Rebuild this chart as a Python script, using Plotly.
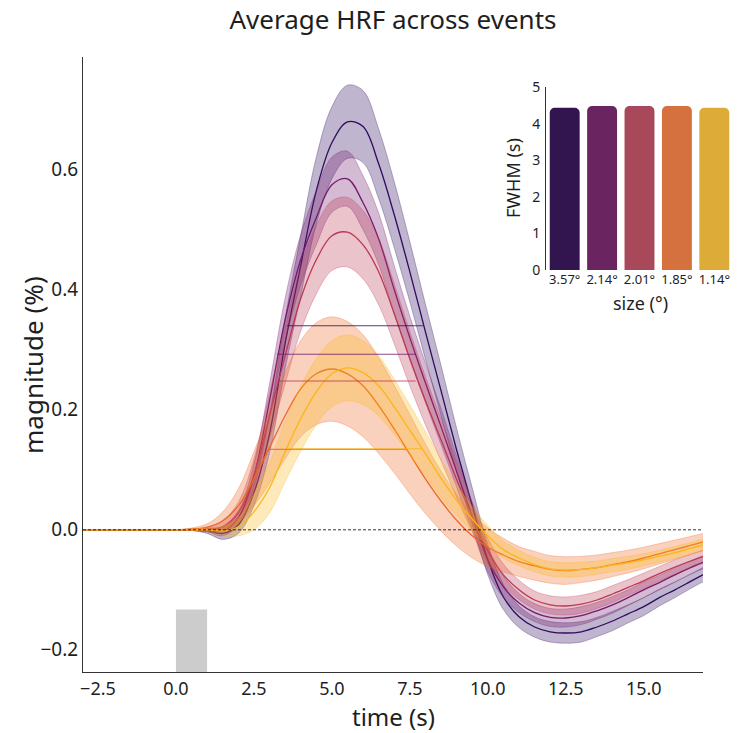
import plotly.graph_objects as go

# ---------------- data ----------------
time_s = [-3.0, -2.5, -2.0, -1.5, -1.0, -0.5, 0.0, 0.5, 1.0, 1.5, 2.0, 2.5, 3.0, 3.5,
          4.0, 4.5, 5.0, 5.5, 6.0, 6.5, 7.0, 7.5, 8.0, 8.5, 9.0, 9.5, 10.0, 10.5,
          11.0, 11.5, 12.0, 12.5, 13.0, 13.5, 14.0, 14.5, 15.0, 15.5, 16.0, 16.5, 17.0]

sizes = ["3.57°", "2.14°", "2.01°", "1.85°", "1.14°"]

hrf_357 = [0, 0, 0, 0, 0, 0, 0, 0.0, -0.002, -0.006, 0.008, 0.062, 0.16, 0.31, 0.44, 0.565,
           0.645, 0.68, 0.672, 0.61, 0.525, 0.43, 0.33, 0.232, 0.133, 0.04, -0.05, -0.112,
           -0.145, -0.162, -0.17, -0.172, -0.17, -0.162, -0.152, -0.14, -0.128, -0.113,
           -0.1, -0.086, -0.072]
err_357 = [0, 0, 0, 0, 0, 0, 0, 0.001, 0.004, 0.01, 0.014, 0.022, 0.032, 0.042, 0.05, 0.056,
           0.06, 0.061, 0.06, 0.058, 0.055, 0.05, 0.046, 0.042, 0.036, 0.03, 0.025, 0.021,
           0.018, 0.017, 0.017, 0.017, 0.017, 0.016, 0.016, 0.015, 0.015, 0.014, 0.013,
           0.012, 0.012]

hrf_214 = [0, 0, 0, 0, 0, 0, 0, 0.0, 0.0, -0.002, 0.02, 0.09, 0.215, 0.35, 0.45, 0.52,
           0.575, 0.585, 0.545, 0.485, 0.40, 0.32, 0.245, 0.172, 0.097, 0.022, -0.05,
           -0.095, -0.122, -0.138, -0.146, -0.147, -0.143, -0.135, -0.125, -0.113, -0.1,
           -0.088, -0.075, -0.063, -0.052]
err_214 = [0, 0, 0, 0, 0, 0, 0, 0.001, 0.003, 0.008, 0.012, 0.02, 0.028, 0.036, 0.042,
           0.045, 0.046, 0.046, 0.045, 0.043, 0.04, 0.036, 0.033, 0.03, 0.026, 0.022, 0.02,
           0.018, 0.016, 0.015, 0.015, 0.015, 0.015, 0.014, 0.014, 0.013, 0.013, 0.012,
           0.012, 0.011, 0.011]

hrf_201 = [0, 0, 0, 0, 0, 0, 0, 0.0, 0.001, 0.005, 0.028, 0.09, 0.19, 0.29, 0.385, 0.45,
           0.49, 0.496, 0.475, 0.43, 0.36, 0.285, 0.215, 0.15, 0.084, 0.022, -0.035, -0.075,
           -0.1, -0.117, -0.125, -0.127, -0.124, -0.117, -0.107, -0.096, -0.085, -0.073,
           -0.062, -0.052, -0.043]
err_201 = [0, 0, 0, 0, 0, 0, 0, 0.001, 0.004, 0.01, 0.018, 0.028, 0.038, 0.047, 0.054,
           0.057, 0.058, 0.058, 0.057, 0.055, 0.05, 0.045, 0.04, 0.035, 0.03, 0.025, 0.021,
           0.018, 0.016, 0.015, 0.015, 0.015, 0.015, 0.014, 0.014, 0.013, 0.013, 0.012,
           0.012, 0.011, 0.011]

hrf_185 = [0, 0, 0, 0, 0, 0, 0, 0.001, 0.004, 0.015, 0.04, 0.085, 0.137, 0.19, 0.235, 0.26,
           0.268, 0.26, 0.24, 0.207, 0.168, 0.126, 0.085, 0.048, 0.016, -0.01, -0.029, -0.042,
           -0.053, -0.06, -0.066, -0.068, -0.066, -0.063, -0.058, -0.053, -0.047, -0.04,
           -0.033, -0.026, -0.019]
err_185 = [0, 0, 0, 0, 0, 0, 0, 0.002, 0.006, 0.015, 0.028, 0.045, 0.06, 0.072, 0.08,
           0.085, 0.087, 0.087, 0.085, 0.08, 0.073, 0.066, 0.058, 0.05, 0.043, 0.037, 0.032,
           0.028, 0.025, 0.024, 0.023, 0.023, 0.022, 0.021, 0.02, 0.019, 0.018, 0.017,
           0.016, 0.015, 0.014]

hrf_114 = [0, 0, 0, 0, 0, 0, 0, 0.0, 0.0, -0.002, 0.005, 0.03, 0.07, 0.13, 0.185, 0.23,
           0.26, 0.27, 0.262, 0.24, 0.205, 0.166, 0.127, 0.086, 0.049, 0.018, -0.01, -0.033,
           -0.047, -0.058, -0.065, -0.067, -0.066, -0.063, -0.059, -0.055, -0.05, -0.044,
           -0.038, -0.031, -0.024]
err_114 = [0, 0, 0, 0, 0, 0, 0, 0.001, 0.003, 0.008, 0.015, 0.03, 0.042, 0.05, 0.054,
           0.055, 0.055, 0.055, 0.053, 0.05, 0.046, 0.042, 0.037, 0.032, 0.026, 0.021,
           0.017, 0.014, 0.013, 0.012, 0.012, 0.012, 0.012, 0.011, 0.011, 0.011, 0.01,
           0.01, 0.01, 0.01, 0.01]

fwhm_left = [3.56, 3.24, 3.24, 2.95, 3.56]
fwhm_right = [7.92, 7.69, 7.69, 7.40, 7.92]
fwhm_bar = [4.43, 4.48, 4.48, 4.48, 4.43]

stim_onset = 0.0
stim_duration = 1.0
stim_top = -0.133

# ---------------- style ----------------
means = [hrf_357, hrf_214, hrf_201, hrf_185, hrf_114]
errs = [err_357, err_214, err_201, err_185, err_114]
line_colors = [(48, 10, 94), (116, 26, 110), (188, 55, 84), (238, 103, 38), (252, 181, 25)]
bar_colors = ["#32154f", "#6a2560", "#a8485b", "#d5703f", "#ddac38"]
FONT = "Noto Sans"
TXT = "#1e1e1e"
W, H = 743, 733
X_RANGE = [-2.98, 16.9]
Y_RANGE = [-0.237, 0.788]


def rgba(c, a):
    return "rgba(%d,%d,%d,%.3f)" % (c[0], c[1], c[2], a)


fig = go.Figure()

for m, e, c in zip(means, errs, line_colors):
    upper = [a + b for a, b in zip(m, e)]
    lower = [a - b for a, b in zip(m, e)]
    fig.add_trace(go.Scatter(x=time_s, y=upper, mode="lines",
                             line=dict(color=rgba(c, 0.3), width=1, shape="spline"),
                             hoverinfo="skip", showlegend=False))
    fig.add_trace(go.Scatter(x=time_s, y=lower, mode="lines", fill="tonexty",
                             fillcolor=rgba(c, 0.3),
                             line=dict(color=rgba(c, 0.3), width=1, shape="spline"),
                             hoverinfo="skip", showlegend=False))
    fig.add_trace(go.Scatter(x=time_s, y=m, mode="lines",
                             line=dict(color=rgba(c, 1), width=1.3, shape="spline"),
                             showlegend=False))

for m, l, r, c in zip(means, fwhm_left, fwhm_right, line_colors):
    half = max(m) / 2
    fig.add_trace(go.Scatter(x=[l, r], y=[half, half], mode="lines",
                             line=dict(color=rgba(c, 0.8), width=1.1),
                             showlegend=False))

# inset bar chart
fig.add_trace(go.Bar(x=sizes, y=fwhm_bar, marker=dict(color=bar_colors, line=dict(width=0)),
                     width=0.8, xaxis="x2", yaxis="y2", showlegend=False))

fig.add_shape(type="rect", xref="x", yref="y", x0=stim_onset, x1=stim_onset + stim_duration,
              y0=Y_RANGE[0], y1=stim_top, fillcolor="#cccccc", line=dict(width=0), layer="below")
fig.add_shape(type="line", xref="x domain", yref="y", x0=0, x1=1, y0=0, y1=0,
              line=dict(color="black", width=0.8, dash="3px,2px"), layer="above")

axcol = "#333333"
fig.update_layout(
    template="none",
    width=W, height=H,
    margin=dict(l=0, r=0, t=0, b=0, autoexpand=False),
    paper_bgcolor="white", plot_bgcolor="rgba(0,0,0,0)",
    font=dict(family=FONT, color=TXT),
    showlegend=False,
    barcornerradius=5,
    title=dict(text="Average HRF across events", x=393 / W, xanchor="center", xref="paper",
               y=1 - 20 / H, yanchor="middle", yref="container", automargin=False,
               font=dict(size=26, family=FONT, color=TXT)),
    xaxis=dict(domain=[83 / W, 703 / W], range=X_RANGE, tick0=0, dtick=2.5, tickformat=".1f",
               showline=True, linecolor=axcol, linewidth=1, showgrid=False, zeroline=False,
               ticks="", tickfont=dict(size=18, family=FONT, color=TXT),
               anchor="y", automargin=False),
    yaxis=dict(domain=[(H - 672) / H, (H - 57) / H], range=Y_RANGE, tick0=0, dtick=0.2,
               tickformat=".1f", showline=True, linecolor=axcol, linewidth=1, showgrid=False,
               zeroline=False, ticks="", tickfont=dict(size=19, family=FONT, color=TXT),
               ticklabelstandoff=0, anchor="x", automargin=False),
    xaxis2=dict(domain=[546 / W, 733 / W], anchor="y2", type="category", showline=False,
                showgrid=False, zeroline=False, ticks="",
                tickfont=dict(size=13, family=FONT, color=TXT), ticklabelstandoff=0,
                automargin=False),
    yaxis2=dict(domain=[(H - 270) / H, (H - 87) / H], anchor="x2", range=[0, 5], dtick=1,
                showline=True, linecolor=axcol, linewidth=1, showgrid=False, zeroline=False,
                ticks="", tickfont=dict(size=14, family=FONT, color=TXT),
                ticklabelstandoff=2, automargin=False),
    annotations=[
        dict(text="time (s)", x=393 / W, y=1 - 716 / H, xref="paper", yref="paper",
             xanchor="center", yanchor="middle", showarrow=False,
             font=dict(size=24, family=FONT, color=TXT)),
        dict(text="magnitude (%)", x=33 / W, y=1 - 365 / H, xref="paper", yref="paper",
             xanchor="center", yanchor="middle", showarrow=False, textangle=-90,
             font=dict(size=26, family=FONT, color=TXT)),
        dict(text="FWHM (s)", x=513 / W, y=1 - 178 / H, xref="paper", yref="paper",
             xanchor="center", yanchor="middle", showarrow=False, textangle=-90,
             font=dict(size=18, family=FONT, color=TXT)),
        dict(text="size (°)", x=640 / W, y=1 - 303 / H, xref="paper", yref="paper",
             xanchor="center", yanchor="middle", showarrow=False,
             font=dict(size=18, family=FONT, color=TXT)),
    ],
)

fig.write_html("out.html")
